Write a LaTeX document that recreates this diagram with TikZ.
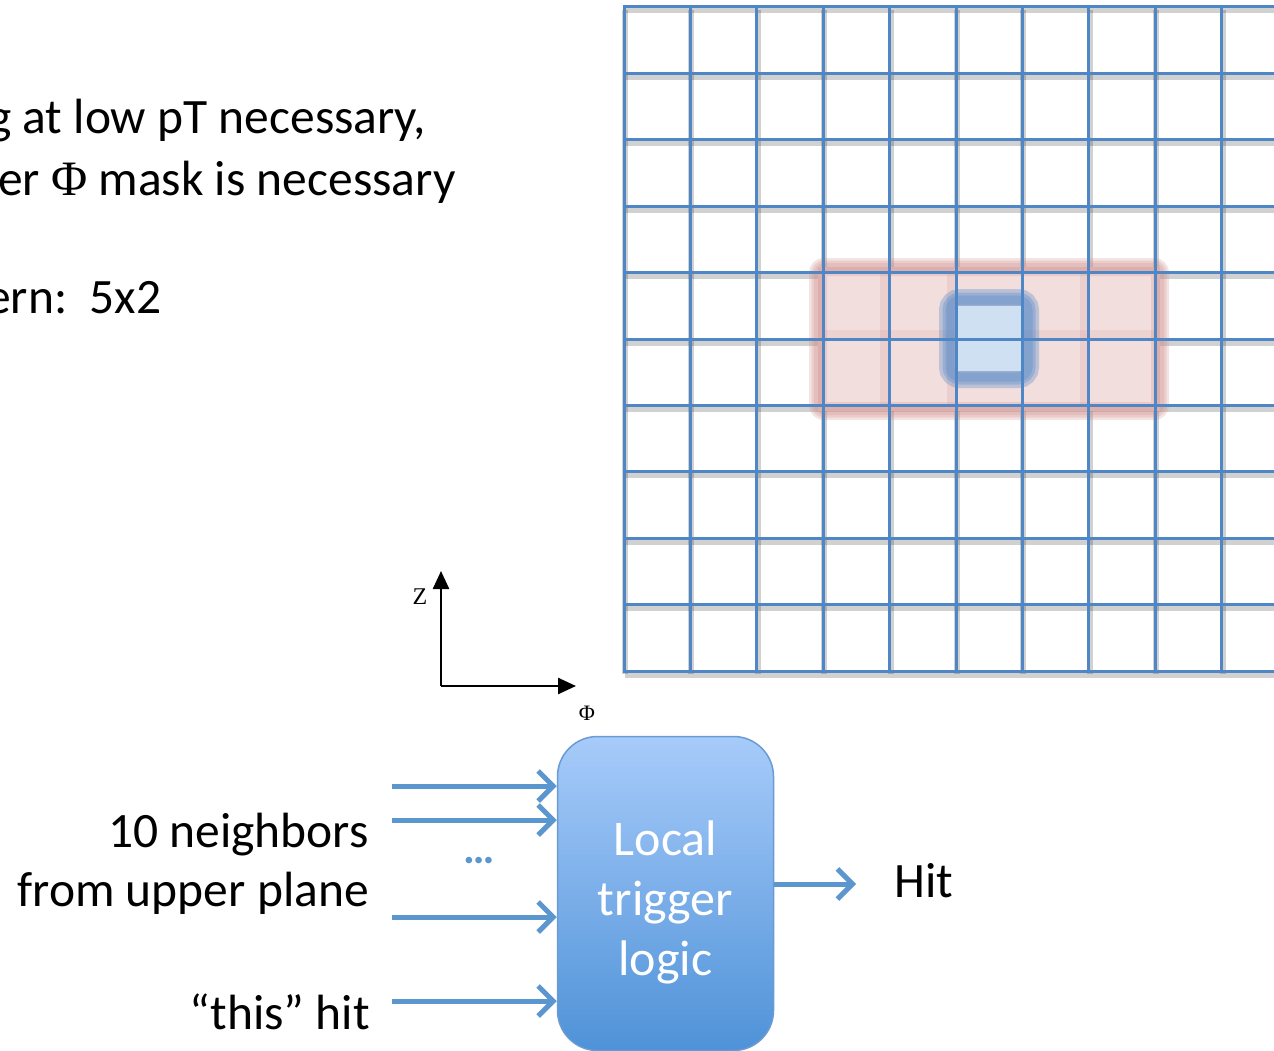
\documentclass[tikz,border=0pt]{standalone}
\usepackage{fontspec}
\setmainfont{Carlito}
\newfontfamily\serifgr{Liberation Serif}
\usetikzlibrary{arrows.meta}
\definecolor{gridblue}{HTML}{4F86C6}
\definecolor{arrowblue}{HTML}{5B96CF}
\definecolor{blocktop}{HTML}{A7CBFA}
\definecolor{blockbot}{HTML}{4F92D8}
\definecolor{blockedge}{HTML}{6A9BD3}
\definecolor{pinkfill}{HTML}{F2DEDD}
\definecolor{pinkedge}{HTML}{CF8F8B}
\definecolor{cellfill}{HTML}{CFE0F3}
\definecolor{cellglow}{HTML}{5A8CCA}
\tikzset{
  lbl/.style={font=\fontsize{49.5}{59}\selectfont, inner sep=0pt, text=black},
  gridline/.style={draw=gridblue, line width=3pt},
  gridshadow/.style={draw=black, opacity=0.18, line width=6pt},
  inarrow/.style={draw=arrowblue, line width=5pt, -{Straight Barb[length=15pt,width=30pt]}},
  axis/.style={draw=black, line width=2.5pt, -{Triangle[length=18pt,width=16pt]}},
  block/.style={draw=blockedge, line width=1.5pt, rounded corners=40pt,
    top color=blocktop, bottom color=blockbot, minimum width=216pt, minimum height=314pt, inner sep=0pt},
  blocktext/.style={font=\fontsize{50}{60}\selectfont, text=white, align=center, inner sep=0pt},
}
\begin{document}
\begin{tikzpicture}[x=1pt,y=-1pt]
\useasboundingbox (0,0) rectangle (1274,1051);
% grid shadows
\foreach \j in {0,...,10} {
  \draw[gridshadow] (625,{7+66.4*\j+3.5}) -- (1274,{7+66.4*\j+3.5});
}
\foreach \i in {0,...,9} {
  \draw[gridshadow] ({624+66.4*\i+1},10) -- ({624+66.4*\i+1},674);
}
% pink mask region
\fill[pinkfill] (818,267) rectangle (1160,411);
\foreach \w in {18,13,8} {
  \draw[pinkedge, opacity=0.25, line width=\w pt, rounded corners=6pt] (818,267) rectangle (1160,411);
}
\foreach \i in {1,2,4} {
  \fill[pinkedge, opacity=0.18] ({823+66.4*\i-9},273) rectangle ({823+66.4*\i-1},406);
}
\fill[pinkedge, opacity=0.15] (823,330) rectangle (1155,339);
% central cell
\foreach \w in {22,15,9} {
  \draw[cellglow, opacity=0.35, line width=\w pt, rounded corners=10pt] (950,300) rectangle (1028,377);
}
\fill[cellfill] (956,306) rectangle (1022,371);
% grid lines
\foreach \j in {0,...,10} {
  \draw[gridline] (622.5,{7+66.4*\j}) -- (1274,{7+66.4*\j});
}
\foreach \i in {0,...,9} {
  \draw[gridline] ({624+66.4*\i},5.5) -- ({624+66.4*\i},672.5);
}
% top-left text
\node[lbl, anchor=base west] (t1) at (-12,134) {g at low pT necessary,};
\node[lbl, anchor=base west] (t2) at (-2,196) {er {\serifgr Φ} mask is necessary};
\node[lbl, anchor=base west] (t3) at (-14,313) {ern:\ \ 5x2};
% axes
\coordinate (o) at (441,686);
\coordinate (zend) at (441,571);
\coordinate (pend) at (576,686);
\draw[axis] (o) -- (zend);
\draw[axis] (o) -- (pend);
\node[font=\serifgr\fontsize{24}{24}\selectfont, inner sep=0pt] (zl) at (420,597) {Z};
\node[font=\serifgr\fontsize{22}{22}\selectfont, inner sep=0pt] (pl) at (587,713) {Φ};
% block
\node[block] (ltl) at (665.5,893.5) {};
\node[blocktext] (ltltext) at (665.5,902) {Local\\trigger\\logic};
% inputs
\coordinate (i1) at (392,786);
\coordinate (i2) at (392,820);
\coordinate (i3) at (392,917);
\coordinate (i4) at (392,1001);
\foreach \c in {i1,i2,i3,i4} {
  \draw[inarrow] (\c) -- (\c -| ltl.west);
}
\node[font=\bfseries\fontsize{44}{44}\selectfont, text=arrowblue, inner sep=0pt, anchor=base] (dots) at (479,863) {…};
% output
\coordinate (hitend) at (856,884);
\draw[inarrow] (ltl.east |- hitend) -- (hitend);
\node[lbl, anchor=base west] (hit) at (894,897) {Hit};
% labels
\node[lbl, anchor=base east] (n1) at (369,847) {10 neighbors};
\node[lbl, anchor=base east] (n2) at (369,906) {from upper plane};
\node[lbl, anchor=base east] (n3) at (370,1029) {“this” hit};
\end{tikzpicture}
\end{document}
